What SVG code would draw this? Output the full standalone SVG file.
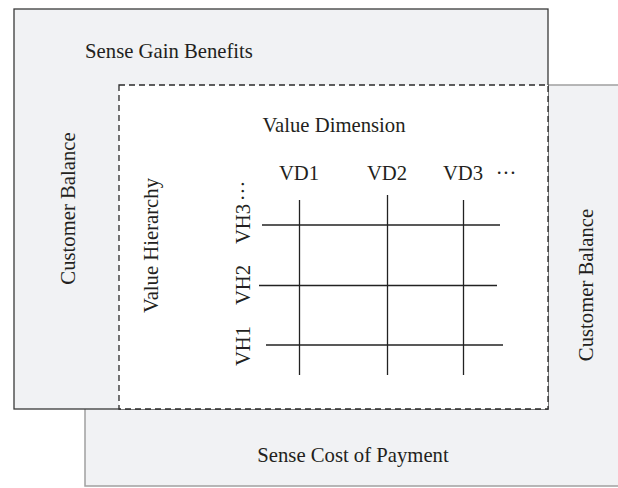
<svg xmlns="http://www.w3.org/2000/svg" width="618" height="488" viewBox="0 0 618 488">
<style>
text{font-family:"Liberation Serif","Times New Roman",serif;font-size:20.7px;fill:#231f20}
.c{text-anchor:middle}
.grid line{stroke:#222;stroke-width:1.3}
</style>
<rect width="618" height="488" fill="#fff"/>
<g id="cost-box">
<rect x="85" y="85" width="540" height="401" fill="#f1f2f4" stroke="#a0a0a0" stroke-width="1.5"/>
<text class="c" x="353" y="462">Sense Cost of Payment</text>
<text class="c" transform="translate(593,285) rotate(-90)">Customer Balance</text>
</g>
<g id="gain-box">
<rect x="14" y="9" width="534" height="400" fill="#f1f2f4" stroke="#3a3a3a" stroke-width="1.3"/>
<text class="c" x="169" y="57.7">Sense Gain Benefits</text>
<text class="c" transform="translate(75,208.5) rotate(-90)">Customer Balance</text>
</g>
<g id="value-box">
<rect x="119" y="85" width="429" height="324" fill="#fff" stroke="#2a2a2a" stroke-width="1.3" stroke-dasharray="6,4"/>
<text class="c" x="334" y="131.7">Value Dimension</text>
<text class="c" transform="translate(158,245.5) rotate(-90)">Value Hierarchy</text>
</g>
<g id="labels">
<text class="c" x="299" y="180">VD1</text>
<text class="c" x="387" y="180">VD2</text>
<text class="c" x="463" y="180">VD3</text>
<text class="c" x="506" y="180">···</text>
<text class="c" transform="translate(250,346) rotate(-90)">VH1</text>
<text class="c" transform="translate(250,285) rotate(-90)">VH2</text>
<text class="c" transform="translate(250,224) rotate(-90)">VH3</text>
<text class="c" transform="translate(250,191) rotate(-90)">···</text>
</g>
<g id="connectors" class="grid">
<line x1="299.5" y1="200" x2="299.5" y2="375"/>
<line x1="387.5" y1="195" x2="387.5" y2="375"/>
<line x1="463.5" y1="200" x2="463.5" y2="375"/>
<line x1="262" y1="225" x2="500" y2="225"/>
<line x1="259" y1="285.5" x2="497" y2="285.5"/>
<line x1="266" y1="345" x2="503" y2="345"/>
</g>
</svg>
